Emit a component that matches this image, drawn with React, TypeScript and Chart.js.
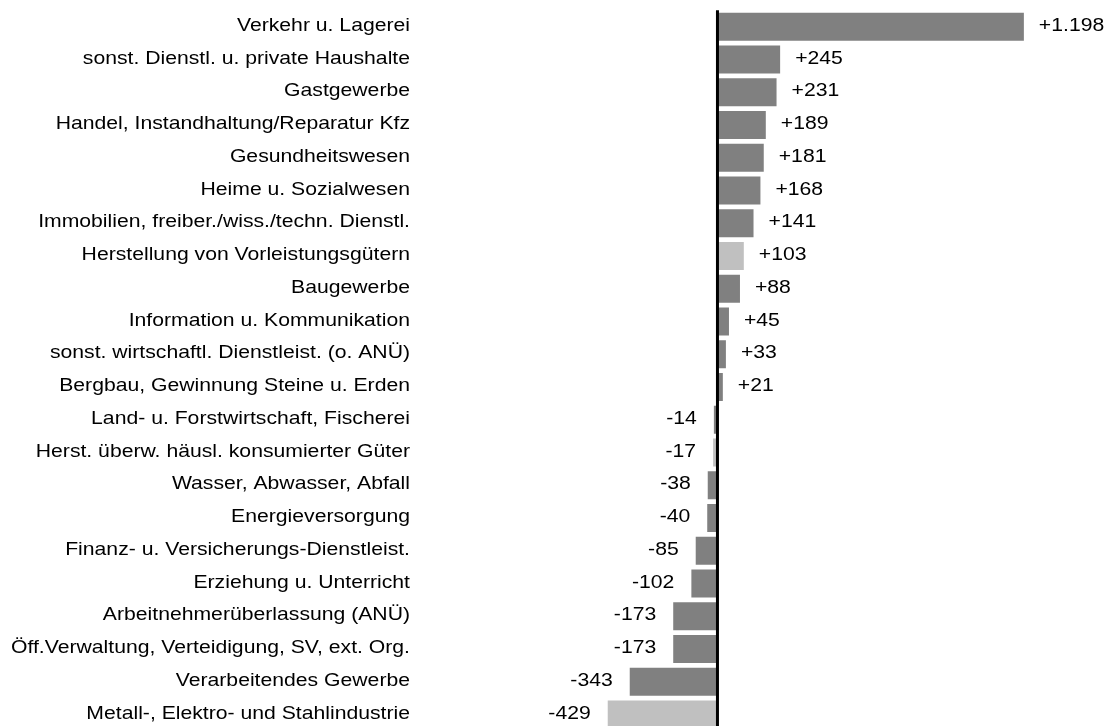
import React, { useEffect, useRef } from "react";
import { Chart, registerables } from "chart.js";

Chart.register(...registerables);

const categories = [
  "Verkehr u. Lagerei",
  "sonst. Dienstl. u. private Haushalte",
  "Gastgewerbe",
  "Handel, Instandhaltung/Reparatur Kfz",
  "Gesundheitswesen",
  "Heime u. Sozialwesen",
  "Immobilien, freiber./wiss./techn. Dienstl.",
  "Herstellung von Vorleistungsgütern",
  "Baugewerbe",
  "Information u. Kommunikation",
  "sonst. wirtschaftl. Dienstleist. (o. ANÜ)",
  "Bergbau, Gewinnung Steine u. Erden",
  "Land- u. Forstwirtschaft, Fischerei",
  "Herst. überw. häusl. konsumierter Güter",
  "Wasser, Abwasser, Abfall",
  "Energieversorgung",
  "Finanz- u. Versicherungs-Dienstleist.",
  "Erziehung u. Unterricht",
  "Arbeitnehmerüberlassung (ANÜ)",
  "Öff.Verwaltung, Verteidigung, SV, ext. Org.",
  "Verarbeitendes Gewerbe",
  "Metall-, Elektro- und Stahlindustrie",
];

const values = [
  1198, 245, 231, 189, 181, 168, 141, 103, 88, 45, 33, 21, -14, -17, -38, -40,
  -85, -102, -173, -173, -343, -429,
];

// categories belonging to the highlighted (light) group
const highlighted = [
  "Herstellung von Vorleistungsgütern",
  "Herst. überw. häusl. konsumierter Güter",
  "Metall-, Elektro- und Stahlindustrie",
];

const DARK = "#808080";
const LIGHT = "#c0c0c0";
const FONT = '18.67px "Liberation Sans", Arial, sans-serif';
const SX = 1.135;

function fmt(v: number): string {
  const a = Math.abs(v);
  const s = a >= 1000 ? Math.floor(a / 1000) + "." + String(a % 1000).padStart(3, "0") : String(a);
  return (v >= 0 ? "+" : "-") + s;
}

function drawStretched(ctx: CanvasRenderingContext2D, text: string, x: number, y: number, align: "left" | "right") {
  ctx.save();
  ctx.translate(x, y);
  ctx.scale(SX, 1);
  ctx.textAlign = align;
  ctx.textBaseline = "middle";
  ctx.fillText(text, 0, 0);
  ctx.restore();
}

const labelPlugin = {
  id: "labelPlugin",
  afterDatasetsDraw(chart: any) {
    const ctx: CanvasRenderingContext2D = chart.ctx;
    const xs = chart.scales.x;
    const ys = chart.scales.y;
    const area = chart.chartArea;
    const x0 = xs.getPixelForValue(0);
    // zero line
    ctx.save();
    ctx.strokeStyle = "#000";
    ctx.lineWidth = 3;
    ctx.beginPath();
    ctx.moveTo(x0, area.top);
    ctx.lineTo(x0, area.bottom);
    ctx.stroke();
    ctx.restore();

    ctx.save();
    ctx.font = FONT;
    ctx.fillStyle = "#000";
    categories.forEach((c, i) => {
      const y = ys.getPixelForValue(i) - 1;
      drawStretched(ctx, c, 410, y, "right");
      const v = values[i];
      const xe = xs.getPixelForValue(v);
      if (v >= 0) drawStretched(ctx, fmt(v), xe + 15, y, "left");
      else drawStretched(ctx, fmt(v), xe - 17, y, "right");
    });
    ctx.restore();
  },
};

export default function App() {
  const ref = useRef<HTMLCanvasElement | null>(null);
  useEffect(() => {
    if (!ref.current) return;
    const chart = new Chart(ref.current, {
      type: "bar",
      data: {
        labels: categories,
        datasets: [
          {
            data: values,
            backgroundColor: categories.map((c) => (highlighted.includes(c) ? LIGHT : DARK)),
            borderWidth: 0,
            barPercentage: 0.855,
            categoryPercentage: 1,
          },
        ],
      },
      options: {
        indexAxis: "y",
        responsive: false,
        animation: false,
        layout: { padding: { left: 420, right: 0, top: 10.3, bottom: 9 } },
        plugins: { legend: { display: false }, tooltip: { enabled: false } },
        scales: {
          x: { display: false, min: -1163, max: 1523 },
          y: { display: false },
        },
      },
      plugins: [labelPlugin],
    });
    return () => chart.destroy();
  }, []);
  return (
    <div style={{ position: "absolute", left: 0, top: 0, width: 1107, height: 726, overflow: "hidden", background: "#fff" }}>
      <canvas ref={ref} width={1107} height={740} style={{ display: "block" }} />
    </div>
  );
}
